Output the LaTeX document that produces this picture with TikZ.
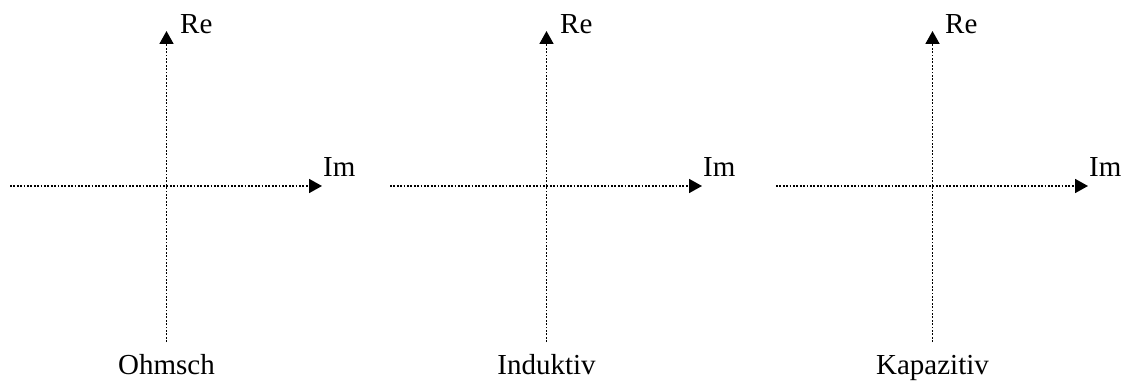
\documentclass[tikz,border=0pt]{standalone}
\usepackage{fontspec}
\setmainfont{Liberation Serif}
\usetikzlibrary{positioning,arrows.meta}

\begin{document}
\begin{tikzpicture}[
  x=1pt, y=1pt,
  axis/.style={line width=1.8pt, dash pattern=on 1.8pt off 1.6pt, -{Triangle[length=13pt, width=14pt]}},
  axlabel/.style={inner sep=0pt, font=\fontsize{29}{34}\selectfont},
  caption/.style={axlabel, anchor=base}
]
\useasboundingbox (0,0) rectangle (1127,383);

% Ohmsch
\coordinate (o-w) at (10,197);
\coordinate (o-e) at (322,197);
\coordinate (o-s) at (166.5,41);
\coordinate (o-n) at (166.5,352);
\draw[axis] (o-w) -- (o-e);
\draw[axis] (o-s) -- (o-n);
\node[axlabel, anchor=base west] (o-re) at (180,349) {Re};
\node[axlabel, anchor=base west] (o-im) at (323,206) {Im};
\node[caption] (o-cap) at (166.5,9) {Ohmsch};

% Induktiv
\coordinate (i-w) at (390,197);
\coordinate (i-e) at (702,197);
\coordinate (i-s) at (546.5,41);
\coordinate (i-n) at (546.5,352);
\draw[axis] (i-w) -- (i-e);
\draw[axis] (i-s) -- (i-n);
\node[axlabel, anchor=base west] (i-re) at (560,349) {Re};
\node[axlabel, anchor=base west] (i-im) at (703,206) {Im};
\node[caption] (i-cap) at (546.5,9) {Induktiv};

% Kapazitiv
\coordinate (k-w) at (776,197);
\coordinate (k-e) at (1088,197);
\coordinate (k-s) at (932.5,41);
\coordinate (k-n) at (932.5,352);
\draw[axis] (k-w) -- (k-e);
\draw[axis] (k-s) -- (k-n);
\node[axlabel, anchor=base west] (k-re) at (945,349) {Re};
\node[axlabel, anchor=base west] (k-im) at (1089,206) {Im};
\node[caption] (k-cap) at (932.5,9) {Kapazitiv};

\end{tikzpicture}
\end{document}
